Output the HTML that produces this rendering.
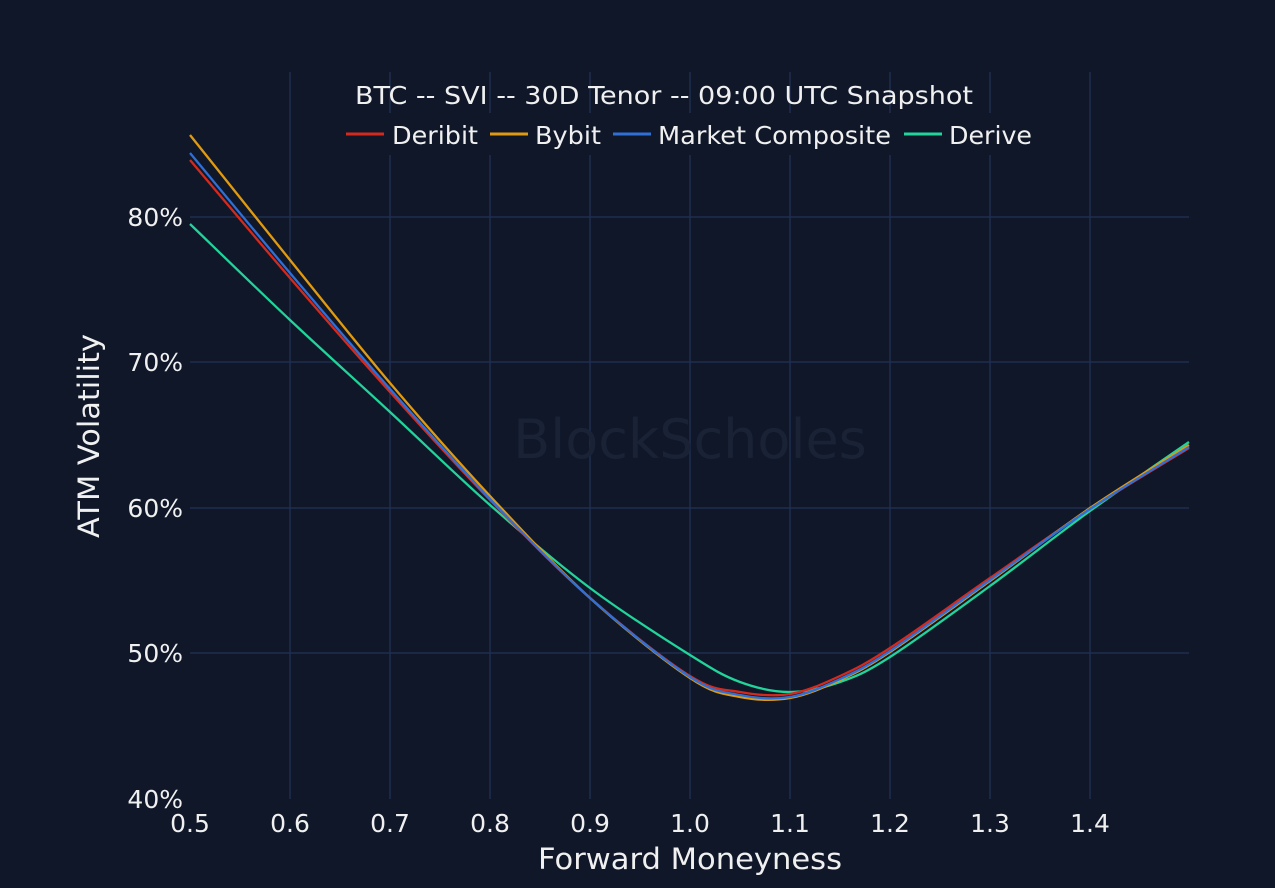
<!DOCTYPE html>
<html><head><meta charset="utf-8"><style>
html,body{margin:0;padding:0;background:#0f1729;}
svg{display:block;font-family:"DejaVu Sans","Liberation Sans",sans-serif;}
</style></head><body>
<svg id="s" width="1275" height="888" xmlns="http://www.w3.org/2000/svg">
<rect width="1275" height="888" fill="#0f1729"/>
<g stroke="#1f2e50" stroke-width="1.5">
<line x1="290" y1="72" x2="290" y2="799"/><line x1="390" y1="72" x2="390" y2="799"/>
<line x1="490" y1="72" x2="490" y2="799"/><line x1="590" y1="72" x2="590" y2="799"/>
<line x1="690" y1="72" x2="690" y2="799"/><line x1="790" y1="72" x2="790" y2="799"/>
<line x1="890" y1="72" x2="890" y2="799"/><line x1="990" y1="72" x2="990" y2="799"/>
<line x1="1090" y1="72" x2="1090" y2="799"/>
<line x1="190" y1="217" x2="1189" y2="217"/><line x1="190" y1="362" x2="1189" y2="362"/>
<line x1="190" y1="508" x2="1189" y2="508"/><line x1="190" y1="653" x2="1189" y2="653"/>
</g>
<text x="690" y="458" fill="#1a2236" font-size="54" text-anchor="middle">BlockScholes</text>
<rect x="340" y="113" width="700" height="42" fill="#0f1729"/>
<g fill="#f0f0f0" font-size="25">
<text x="664" y="104" text-anchor="middle" textLength="618" lengthAdjust="spacingAndGlyphs">BTC -- SVI -- 30D Tenor -- 09:00 UTC Snapshot</text>
<text x="392" y="144" textLength="86" lengthAdjust="spacingAndGlyphs">Deribit</text>
<text x="535" y="144" textLength="66" lengthAdjust="spacingAndGlyphs">Bybit</text>
<text x="658" y="144" textLength="233" lengthAdjust="spacingAndGlyphs">Market Composite</text>
<text x="949" y="144" textLength="83" lengthAdjust="spacingAndGlyphs">Derive</text>
</g>
<g stroke-width="3">
<line x1="346" y1="134" x2="384" y2="134" stroke="#d42a1e"/>
<line x1="490" y1="134" x2="528" y2="134" stroke="#e09a12"/>
<line x1="613" y1="134" x2="651" y2="134" stroke="#2f6fd6"/>
<line x1="904" y1="134" x2="942" y2="134" stroke="#22d39a"/>
</g>
<g fill="#f0f0f0" font-size="25" text-anchor="end">
<text x="183" y="226">80%</text><text x="183" y="371">70%</text>
<text x="183" y="517">60%</text><text x="183" y="662">50%</text><text x="183" y="808">40%</text>
</g>
<g fill="#f0f0f0" font-size="25" text-anchor="middle">
<text x="190" y="832">0.5</text><text x="290" y="832">0.6</text><text x="390" y="832">0.7</text>
<text x="490" y="832">0.8</text><text x="590" y="832">0.9</text><text x="690" y="832">1.0</text>
<text x="790" y="832">1.1</text><text x="890" y="832">1.2</text><text x="990" y="832">1.3</text>
<text x="1090" y="832">1.4</text>
</g>
<text x="690" y="869" fill="#f0f0f0" font-size="29" text-anchor="middle" textLength="304" lengthAdjust="spacingAndGlyphs">Forward Moneyness</text>
<text transform="translate(99,436) rotate(-90)" fill="#f0f0f0" font-size="29" text-anchor="middle" textLength="204" lengthAdjust="spacingAndGlyphs">ATM Volatility</text>
<g id="c" fill="none" stroke-width="2.3"></g>
</svg>
<script>
function cr(p){let d="M"+p[0][0]+","+p[0][1];for(let i=0;i<p.length-1;i++){const a=p[i-1]||p[i],b=p[i],c=p[i+1],e=p[i+2]||c;
d+=" C"+(b[0]+(c[0]-a[0])/6)+","+(b[1]+(c[1]-a[1])/6)+" "+(c[0]-(e[0]-b[0])/6)+","+(c[1]-(e[1]-b[1])/6)+" "+c[0]+","+c[1];}return d;}
const S=[
["#22d39a",[[190,224],[290,320],[390,412],[490,505],[590,588],[690,655],[740,682],[790,692],[840,682],[890,657],[990,586],[1090,511],[1189,442]]],
["#d42a1e",[[190,160],[290,278],[390,392],[490,500],[590,598],[690,676],[740,692],[790,694],[840,676],[890,648],[990,578],[1090,509],[1189,448]]],
["#e09a12",[[190,135],[290,260],[390,383],[490,496],[590,598],[690,678],[740,697],[790,698],[840,680],[890,652],[990,581],[1090,508],[1189,445]]],
["#2f6fd6",[[190,153],[290,273],[390,389],[490,499],[590,598],[690,677],[740,695],[790,697],[840,679],[890,651],[990,580],[1090,509],[1189,447]]]
];
const g=document.getElementById("c");
S.forEach(s=>{const p=document.createElementNS("http://www.w3.org/2000/svg","path");p.setAttribute("d",cr(s[1]));p.setAttribute("stroke",s[0]);g.appendChild(p);});
</script>
</body></html>
